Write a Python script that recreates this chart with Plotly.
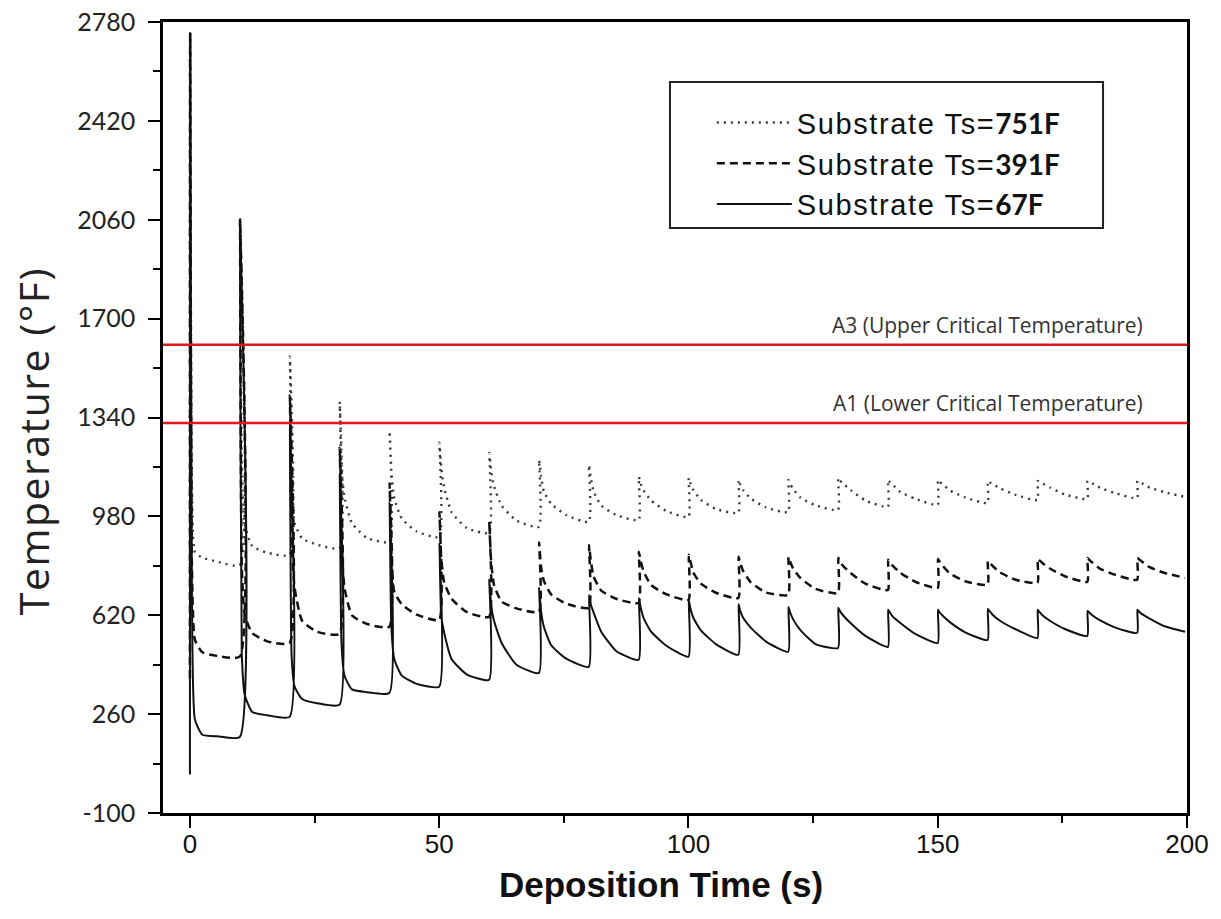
import plotly.graph_objects as go

# ---------------- data ----------------
PULSE_TIMES = [0, 10, 20, 30, 40, 50, 60, 70, 80, 90,
               100, 110, 120, 130, 140, 150, 160, 170, 180, 190]
DECAY_OFFSETS = [0.4, 1.0, 2.5, 5.5]   # seconds after each pulse
END_TIME = 199.6

# Substrate Ts = 751F (dotted)
hot_start = 751
hot_peak = [2740, 2060, 1561, 1397, 1290, 1248, 1211, 1186, 1168, 1124,
            1120, 1113, 1113, 1120, 1113, 1113, 1109, 1109, 1109, 1109]
hot_d04 = [1100, 1200, 1150, 1150, 1150, 1160, 1150, 1130, 1120, 1100,
           1100, 1095, 1098, 1110, 1105, 1105, 1104, 1105, 1105, 1105]
hot_d10 = [850, 950, 956, 1050, 1045, 1085, 1090, 1070, 1070, 1075,
           1075, 1075, 1080, 1100, 1095, 1097, 1098, 1100, 1100, 1100]
hot_d25 = [830, 872, 900, 955, 972, 995, 1020, 1025, 1020, 1038,
           1040, 1045, 1048, 1076, 1069, 1074, 1082, 1085, 1085, 1085]
hot_d55 = [815, 848, 877, 902, 925, 938, 965, 985, 985, 1000,
           1007, 1013, 1020, 1038, 1044, 1049, 1059, 1060, 1065, 1068]
hot_trough = [803, 840, 865, 887, 905, 920, 942, 960, 967, 978,
              993, 996, 1004, 1015, 1022, 1029, 1040, 1044, 1047, 1051]

# Substrate Ts = 391F (dashed)
mid_start = 391
mid_peak = [2740, 2060, 1420, 1230, 1100, 995, 960, 885, 876, 851,
            840, 833, 833, 829, 822, 825, 818, 826, 829, 829]
mid_d04 = [800, 800, 900, 900, 850, 830, 820, 800, 820, 820,
           815, 810, 815, 815, 812, 815, 812, 820, 822, 823]
mid_d10 = [530, 620, 720, 720, 705, 740, 730, 745, 760, 780,
           775, 780, 790, 800, 800, 800, 800, 810, 812, 815]
mid_d25 = [485, 555, 600, 620, 660, 680, 670, 695, 710, 730,
           735, 740, 755, 774, 774, 771, 776, 790, 790, 795]
mid_d55 = [472, 525, 560, 588, 622, 632, 645, 662, 680, 697,
           702, 703, 716, 735, 742, 744, 750, 762, 768, 774]
mid_trough = [469, 519, 552, 578, 603, 614, 632, 647, 665, 676,
              683, 694, 701, 712, 720, 731, 738, 742, 749, 756]

# Substrate Ts = 67F (solid)
cold_start = 40
cold_peak = [2740, 2060, 1300, 1130, 1030, 880, 750, 720, 694, 683,
             676, 660, 650, 647, 640, 640, 643, 640, 636, 640]
cold_d04 = [700, 480, 470, 520, 580, 620, 660, 640, 660, 650,
            645, 635, 630, 635, 630, 630, 635, 632, 630, 633]
cold_d10 = [240, 330, 360, 400, 460, 556, 600, 578, 629, 610,
            610, 610, 605, 620, 615, 618, 622, 620, 620, 624]
cold_d25 = [185, 268, 315, 350, 400, 460, 520, 510, 560, 560,
            565, 575, 565, 592, 592, 594, 600, 600, 602, 608]
cold_d55 = [179, 256, 300, 340, 370, 405, 440, 462, 490, 510,
            515, 525, 515, 545, 552, 558, 570, 570, 576, 580]
cold_trough = [177, 250, 294, 337, 360, 385, 410, 432, 458, 469,
               476, 487, 501, 505, 519, 530, 537, 545, 556, 560]

A3_TEMP = 1605
A1_TEMP = 1320

X_TICKS = [0, 50, 100, 150, 200]
Y_TICKS = [-100, 260, 620, 980, 1340, 1700, 2060, 2420, 2780]


def build(start, peak, d04, d10, d25, d55, trough):
    xs, ys = [], []
    prev = start
    for i, t0 in enumerate(PULSE_TIMES):
        xs.append(t0)
        ys.append(prev)
        xs.append(t0 + 0.05)
        ys.append(peak[i])
        for off, arr in zip(DECAY_OFFSETS, (d04, d10, d25, d55)):
            xs.append(t0 + off)
            ys.append(arr[i])
        prev = trough[i]
    xs.append(END_TIME)
    ys.append(prev)
    return xs, ys


series = [
    ("Substrate Ts=", "751F",
     (hot_start, hot_peak, hot_d04, hot_d10, hot_d25, hot_d55, hot_trough),
     dict(color="#3a3a3a", width=2.4, dash="2px,5px")),
    ("Substrate Ts=", "391F",
     (mid_start, mid_peak, mid_d04, mid_d10, mid_d25, mid_d55, mid_trough),
     dict(color="#111111", width=2.5, dash="8px,5px")),
    ("Substrate Ts=", "67F",
     (cold_start, cold_peak, cold_d04, cold_d10, cold_d25, cold_d55, cold_trough),
     dict(color="#111111", width=2.0)),
]

fig = go.Figure()
for i, (label, val, arrs, line) in enumerate(series):
    xs, ys = build(*arrs)
    fig.add_trace(go.Scatter(
        x=xs, y=ys, mode="lines",
        line=dict(shape="spline", smoothing=0.5, **line),
        name=("<span style='letter-spacing:1.6px'>" + label + "</span>"
              + "<span style='font-family:Lato;font-weight:bold;font-size:28px'>"
              + val + "</span>"),
        legendgroup=f"g{i}",
    ))

red = "#e3161d"
fig.add_hline(y=A3_TEMP, line=dict(color=red, width=2.5))
fig.add_hline(y=A1_TEMP, line=dict(color=red, width=2.5))

for temp, txt in ((A3_TEMP, "A3 (Upper Critical Temperature)"),
                  (A1_TEMP, "A1 (Lower Critical Temperature)")):
    fig.add_annotation(x=191.6, y=temp, xref="x", yref="y",
                       text=txt, showarrow=False,
                       xanchor="right", yanchor="bottom", yshift=4,
                       font=dict(family="Open Sans", size=21, color="#333333"))

# axis titles
fig.add_annotation(x=-0.127, y=0.470, xref="paper", yref="paper",
                   text="<span style='letter-spacing:1.5px'>Temperature (°F)</span>",
                   textangle=-90, showarrow=False,
                   xanchor="center", yanchor="middle",
                   font=dict(family="Open Sans", size=41, color="#222222"))
fig.add_annotation(x=0.486, y=-0.091, xref="paper", yref="paper",
                   text="<b>Deposition Time (s)</b>", showarrow=False,
                   xanchor="center", yanchor="middle",
                   font=dict(family="Liberation Sans", size=35, color="#111111"))

# legend frame
fig.add_shape(type="rect", xref="paper", yref="paper",
              x0=0.4951, x1=0.918, y0=0.7396, y1=0.924,
              line=dict(color="#222222", width=2), fillcolor="rgba(0,0,0,0)")

fig.update_layout(
    width=1221, height=919,
    margin=dict(l=163, r=34, t=22, b=106),
    paper_bgcolor="white", plot_bgcolor="white",
    showlegend=True,
    legend=dict(x=0.536, y=0.905, xanchor="left", yanchor="top",
                bgcolor="rgba(0,0,0,0)", borderwidth=0,
                font=dict(family="Liberation Sans", size=29, color="#111111"),
                itemwidth=75, tracegroupgap=0, traceorder="normal"),
)

fig.update_xaxes(
    range=[-5.4, 200], tickmode="array", tickvals=X_TICKS,
    ticktext=[str(v) for v in X_TICKS], automargin=False,
    ticks="outside", ticklen=12, tickwidth=2, tickcolor="black",
    minor=dict(dtick=25, tick0=0, ticks="outside", ticklen=7, tickwidth=2, tickcolor="black"),
    showline=True, linecolor="black", linewidth=2.5, mirror=True,
    showgrid=False, zeroline=False, ticklabelstandoff=-6,
    tickfont=dict(family="Liberation Sans Narrow, Liberation Sans", size=26, color="#111111"),
)
fig.update_yaxes(
    range=[-100, 2780], tickmode="array", tickvals=Y_TICKS,
    ticktext=[str(v) for v in Y_TICKS], automargin=False,
    ticks="outside", ticklen=12, tickwidth=2, tickcolor="black",
    minor=dict(dtick=180, tick0=-100, ticks="outside", ticklen=7, tickwidth=2, tickcolor="black"),
    showline=True, linecolor="black", linewidth=2.5, mirror=True,
    showgrid=False, zeroline=False,
    ticklabelstandoff=8,
    tickfont=dict(family="Lato", size=25, color="#222222"),
)

fig.write_html("out.html", config={"displayModeBar": False},
               post_script="document.body.style.margin='0px';")
